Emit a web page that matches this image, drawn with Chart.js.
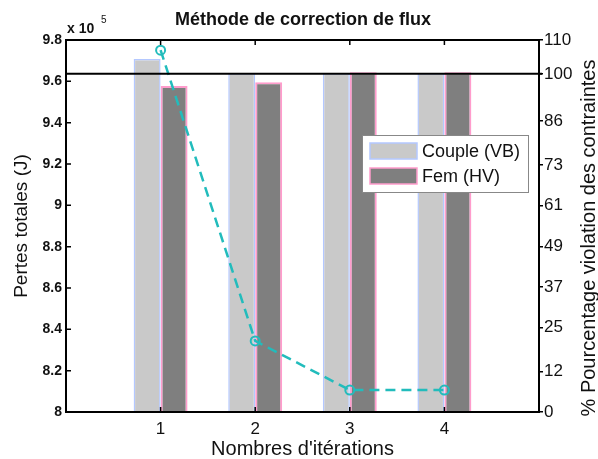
<!DOCTYPE html>
<html>
<head>
<meta charset="utf-8">
<script src="https://cdn.jsdelivr.net/npm/chart.js@4.4.1/dist/chart.umd.min.js"></script>
<style>
    html, body { margin: 0; padding: 0; background: #fff; }
    #wrap { width: 598px; height: 459px; }
</style>
</head>
<body>
<div id="wrap"><canvas id="chart" width="598" height="459"></canvas></div>
<script>
// Data
const iterations = ['1', '2', '3', '4'];
const coupleVB = [9.708, 9.639, 9.639, 9.639];   // x 10^5 J
const femHV = [9.577, 9.595, 9.644, 9.644];      // x 10^5 J
const violation = [107, 21, 6.5, 6.5];           // %
const refLevel = 100;                            // % reference line
const rightTicks = [0, 12, 25, 37, 49, 61, 73, 86, 100, 110];

// pad one empty slot each side so the categories sit like the original
const labels = ['', ...iterations, ''];
const pad = arr => [null, ...arr, null];

const font = 'Arial, "Liberation Sans", sans-serif';

// frame, inward ticks, reference line, title, legend, exponent
const decorPlugin = {
    id: 'decor',
    afterDatasetsDraw(chart) {
        const { ctx, chartArea: a, scales } = chart;
        const yRef = scales.y1.getPixelForValue(refLevel);
        ctx.save();
        ctx.strokeStyle = '#000';
        ctx.lineWidth = 2;
        ctx.beginPath();
        ctx.moveTo(a.left, yRef);
        ctx.lineTo(a.right + 3, yRef);
        ctx.stroke();
        ctx.restore();
    },
    afterDraw(chart) {
        const { ctx, chartArea: a, scales } = chart;
        ctx.save();
        ctx.strokeStyle = '#000';
        ctx.lineWidth = 2;
        ctx.strokeRect(a.left, a.top, a.right - a.left, a.bottom - a.top);

        ctx.lineWidth = 1.5;
        ctx.beginPath();
        scales.y.ticks.forEach((t, i) => {
            const p = scales.y.getPixelForTick(i);
            ctx.moveTo(a.left, p);
            ctx.lineTo(a.left + 5, p);
        });
        iterations.forEach((lab, i) => {
            const p = scales.x.getPixelForValue(i + 1);
            ctx.moveTo(p, a.top);
            ctx.lineTo(p, a.top + 5);
            ctx.moveTo(p, a.bottom);
            ctx.lineTo(p, a.bottom - 5);
        });
        ctx.stroke();

        // title
        ctx.fillStyle = '#111';
        ctx.font = 'bold 18px ' + font;
        ctx.textAlign = 'center';
        ctx.textBaseline = 'middle';
        ctx.fillText('Méthode de correction de flux', 303, 20);

        // right axis title, reading upwards
        ctx.save();
        ctx.translate(589, (a.top + a.bottom) / 2 + 12);
        ctx.rotate(-Math.PI / 2);
        ctx.font = '20px ' + font;
        ctx.fillText('% Pourcentage violation des contraintes', 0, 0);
        ctx.restore();

        // exponent
        ctx.font = 'bold 14px ' + font;
        ctx.textAlign = 'left';
        ctx.fillText('x 10', 67, 29);
        ctx.font = '10px ' + font;
        ctx.fillText('5', 101, 20);

        // legend
        const lx = 362, ly = 135, lw = 166, lh = 57;
        ctx.fillStyle = '#fff';
        ctx.fillRect(lx, ly, lw, lh);
        ctx.strokeStyle = '#888';
        ctx.lineWidth = 1;
        ctx.strokeRect(lx + 0.5, ly + 0.5, lw, lh);
        chart.data.datasets.filter(d => d.type === 'bar').forEach((d, i) => {
            const y = ly + 8 + i * 25;
            ctx.fillStyle = d.backgroundColor;
            ctx.fillRect(lx + 8, y, 47, 16);
            ctx.strokeStyle = d.borderColor;
            ctx.lineWidth = 1.5;
            ctx.strokeRect(lx + 8, y, 47, 16);
            ctx.fillStyle = '#111';
            ctx.font = '18px ' + font;
            ctx.textBaseline = 'middle';
            ctx.fillText(d.label, lx + 60, y + 9);
        });
        ctx.restore();
    }
};

new Chart(document.getElementById('chart'), {
    data: {
        labels: labels,
        datasets: [
            {
                type: 'line',
                label: 'Violation',
                data: pad(violation),
                yAxisID: 'y1',
                borderColor: '#22bcbc',
                borderWidth: 2.5,
                borderDash: [10, 6],
                pointRadius: 4.5,
                pointBorderWidth: 2,
                pointBackgroundColor: 'rgba(0,0,0,0)',
                pointBorderColor: '#22bcbc',
                order: 0
            },
            {
                type: 'bar',
                label: 'Couple (VB)',
                data: pad(coupleVB),
                yAxisID: 'y',
                backgroundColor: '#c9c9c9',
                borderColor: '#b4c8ff',
                borderWidth: 1.5,
                barPercentage: 1,
                categoryPercentage: 0.57,
                order: 1
            },
            {
                type: 'bar',
                label: 'Fem (HV)',
                data: pad(femHV),
                yAxisID: 'y',
                backgroundColor: '#7f7f7f',
                borderColor: '#ff9ccc',
                borderWidth: 2,
                barPercentage: 1,
                categoryPercentage: 0.57,
                order: 1
            }
        ]
    },
    options: {
        responsive: false,
        animation: false,
        layout: { padding: { top: 40, left: 0, right: 0, bottom: 0 } },
        plugins: {
            legend: { display: false },
            title: { display: false },
            tooltip: { enabled: false }
        },
        scales: {
            x: {
                type: 'category',
                offset: false,
                grid: { display: false, drawTicks: false },
                border: { display: true, color: '#000', width: 2 },
                ticks: { color: '#111', font: { size: 17, family: font }, padding: 7, autoSkip: false, maxRotation: 0 },
                title: { display: true, text: "Nombres d'itérations", color: '#111', font: { size: 20, family: font, lineHeight: 1 }, padding: { top: 0, bottom: 0 } },
                afterFit(scale) { scale.height = 47; }
            },
            y: {
                position: 'left',
                min: 8,
                max: 9.8,
                grid: { display: false, drawTicks: false },
                border: { display: true, color: '#000', width: 2 },
                ticks: {
                    stepSize: 0.2,
                    color: '#111',
                    padding: 4,
                    font: { size: 14, weight: 'bold', family: font },
                    callback: v => String(Number(v.toFixed(1)))
                },
                title: { display: true, text: 'Pertes totales (J)', color: '#111', font: { size: 19, family: font, lineHeight: 1 }, padding: { top: 12, bottom: 0 } },
                afterFit(scale) { scale.width = 66; }
            },
            y1: {
                position: 'right',
                min: 0,
                max: 110,
                grid: { drawOnChartArea: false, color: '#000', tickLength: 4, lineWidth: 1.5 },
                border: { display: true, color: '#000', width: 2 },
                afterBuildTicks(scale) { scale.ticks = rightTicks.map(v => ({ value: v })); },
                ticks: { color: '#111', padding: 1, font: { size: 17, family: font } },
                title: { display: false },
                afterFit(scale) { scale.width = 59; }
            }
        }
    },
    plugins: [decorPlugin]
});
</script>
</body>
</html>
